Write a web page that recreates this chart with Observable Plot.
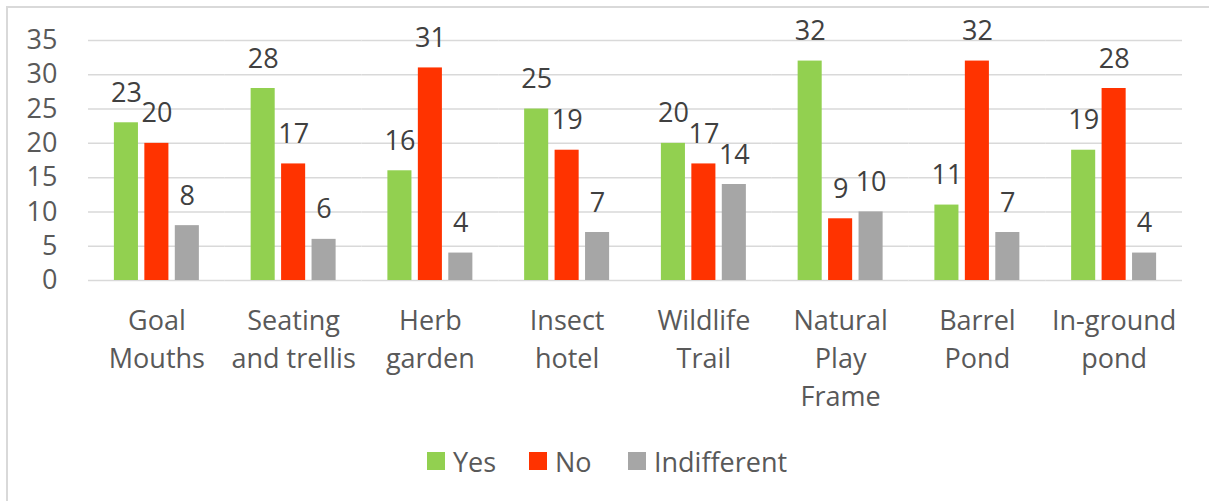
<!DOCTYPE html>
<html><head><meta charset="utf-8">
<script src="https://cdn.jsdelivr.net/npm/d3@7"></script>
<script src="https://cdn.jsdelivr.net/npm/@observablehq/plot@0.6"></script>
<style>
body{margin:0;background:#fff;font-family:"Open Sans",sans-serif;}
#wrap{position:relative;width:1209px;height:501px;overflow:hidden;background:#fff;}
#frame{position:absolute;left:6px;top:6px;width:1300px;height:600px;border-left:2px solid #d9d9d9;border-top:2px solid #d9d9d9;}
#chart{position:absolute;left:0;top:0;}
.item{position:absolute;top:443px;height:36px;display:flex;align-items:center;font-size:27px;line-height:27px;color:#595959;white-space:nowrap;}
.sw{width:18px;height:18px;display:inline-block;margin-right:8px;}
</style></head><body>
<div id="wrap"><div id="frame"></div><div id="chart"></div><div id="legend"></div></div>
<script>
const categories = ["Goal\nMouths","Seating\nand trellis","Herb\ngarden","Insect\nhotel","Wildlife\nTrail","Natural\nPlay\nFrame","Barrel\nPond","In-ground\npond"];
const series = ["Yes","No","Indifferent"];
const yesValues = [23,28,16,25,20,32,11,19];
const noValues = [20,17,31,19,17,9,32,28];
const indifferentValues = [8,6,4,7,14,10,7,4];
const colors = ["#92D050","#FF3300","#A6A6A6"];
const yTicks = [0,5,10,15,20,25,30,35];

const valuesBySeries = [yesValues, noValues, indifferentValues];
const data = [];
categories.forEach((c,i)=>{
  series.forEach((s,j)=>{ data.push({cat:c, series:s, value:valuesBySeries[j][i]}); });
});

const plot = Plot.plot({
  width:1209, height:420,
  marginLeft:88, marginRight:27, marginTop:40, marginBottom:140,
  style:{fontFamily:"'Open Sans', sans-serif", fontSize:"27px", background:"transparent", overflow:"visible"},
  fx:{domain:categories, padding:0, round:false, label:null},
  x:{domain:series, paddingInner:0.21, paddingOuter:0.85, round:false, axis:null},
  y:{domain:[0,35], label:null},
  color:{domain:series, range:colors},
  marks:[
    Plot.gridY(yTicks,{stroke:"#d9d9d9", strokeOpacity:1, strokeWidth:1.5}),
    Plot.axisY(yTicks,{tickSize:0, tickPadding:31, fill:"#595959", fontSize:27, label:null}),
    Plot.axisFx({anchor:"bottom", tickSize:0, tickPadding:22, lineHeight:1.41, fill:"#595959", fontSize:27, label:null}),
    Plot.barY(data,{fx:"cat", x:"series", y:"value", fill:"series"}),
    Plot.text(data,{fx:"cat", x:"series", y:"value", text:"value", lineAnchor:"bottom", dy:-21, fill:"#404040", fontSize:27})
  ]
});
document.getElementById("chart").appendChild(plot);

const legend = document.getElementById("legend");
const swLeft = [427, 529, 628];
series.forEach((s,j)=>{
  const it = document.createElement("div");
  it.className = "item";
  it.style.left = swLeft[j] + "px";
  const sw = document.createElement("span");
  sw.className = "sw"; sw.style.background = colors[j];
  it.appendChild(sw);
  it.appendChild(document.createTextNode(s));
  legend.appendChild(it);
});
</script>
</body></html>
